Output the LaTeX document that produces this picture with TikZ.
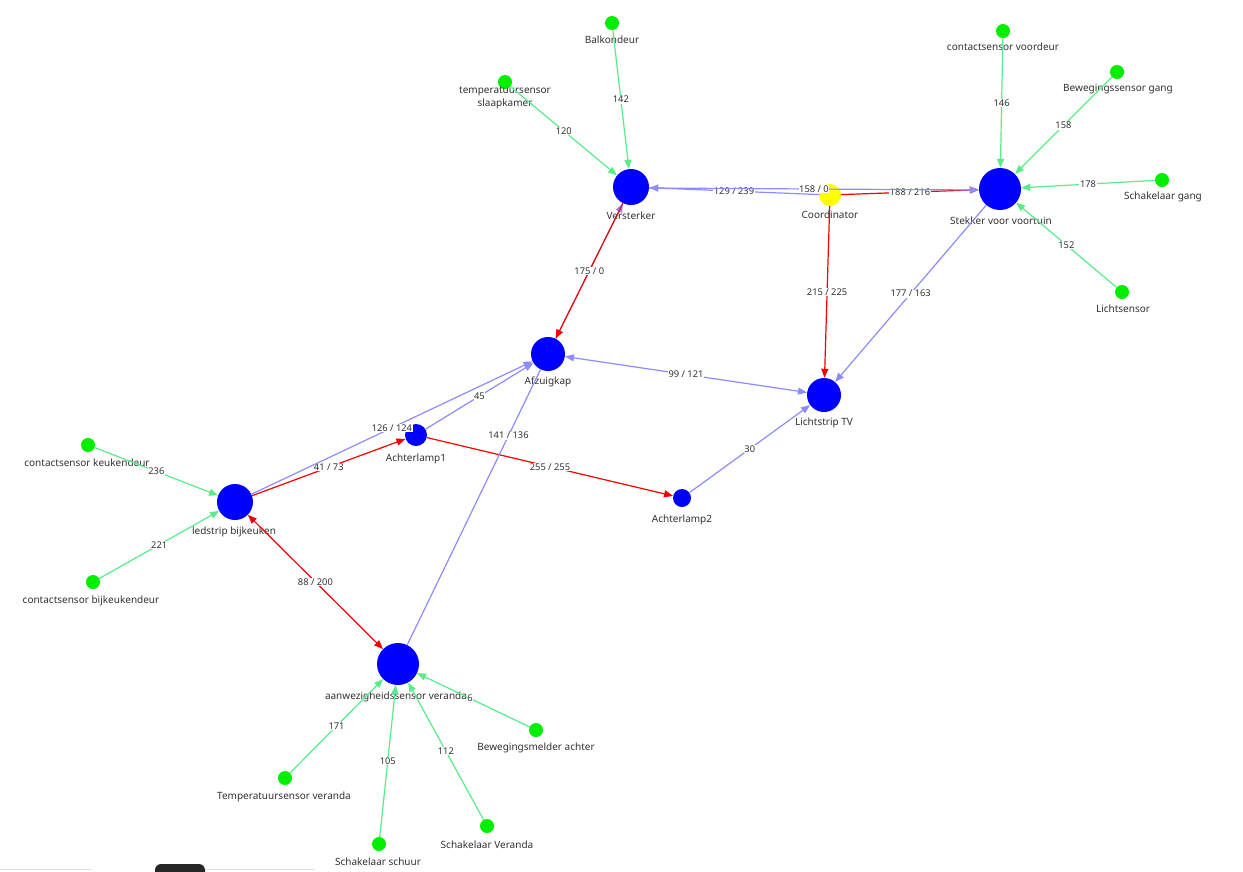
\documentclass[tikz,border=0pt]{standalone}
\usepackage{fontspec}
\setmainfont{Noto Sans}
\usetikzlibrary{arrows.meta}
\definecolor{hubblue}{RGB}{0,0,255}
\definecolor{sensgreen}{RGB}{0,238,0}
\definecolor{coordyellow}{RGB}{255,255,0}
\definecolor{egreen}{RGB}{90,235,140}
\definecolor{eblue}{RGB}{140,140,255}
\definecolor{ered}{RGB}{245,0,0}
\definecolor{txt}{RGB}{50,50,50}
\begin{document}
\begin{tikzpicture}[x=1pt,y=-1pt,
  hub/.style={circle,fill=hubblue,draw=none,inner sep=0pt,minimum size=#1},
  sensor/.style={circle,fill=sensgreen,draw=none,inner sep=0pt,minimum size=14pt},
  coordnode/.style={circle,fill=coordyellow,draw=none,inner sep=0pt,minimum size=22pt},
  lbl/.style={text=txt,inner sep=0.5pt,font=\fontsize{10}{13}\selectfont},
  elbl/.style={fill=white,text=txt,inner sep=0.6pt,font=\fontsize{9.3}{10}\selectfont},
  tip/.style={-{Triangle[length=9pt,width=7pt]}},
  tips/.style={{Triangle[length=9pt,width=7pt]}-{Triangle[length=9pt,width=7pt]}},
  gedge/.style={draw=egreen,line width=1.2pt,tip},
  bedge/.style={draw=eblue,line width=1.2pt},
  redge/.style={draw=ered,line width=1.2pt}]
\useasboundingbox (0,0) rectangle (1243,871);
\clip (0,0) rectangle (1243,871);
\fill[white] (0,0) rectangle (1243,871);
\fill[black!85,rounded corners=6pt] (155,864) rectangle (205,885);
\draw[black!12,line width=1pt] (0,869) -- (92,869) (205,869) -- (315,869);

% nodes
\node[sensor] (balk) at (612,23) {};
\node[lbl] (balk-l) at (612,40) {Balkondeur};
\node[sensor] (tslaap) at (505,82) {};
\node[lbl,align=center] (tslaap-l) at (505,98) {temperatuursensor\\slaapkamer};
\node[hub=36pt] (verst) at (631,187) {};
\node[lbl] (verst-l) at (631,216) {Versterker};
\node[coordnode] (coord) at (830,195) {};
\node[lbl] (coord-l) at (830,215) {Coordinator};
\node[hub=42pt] (stek) at (1000,189) {};
\node[lbl] (stek-l) at (1001,221) {Stekker voor voortuin};
\node[sensor] (cvoor) at (1003,31) {};
\node[lbl] (cvoor-l) at (1003,47) {contactsensor voordeur};
\node[sensor] (bgang) at (1117,72) {};
\node[lbl] (bgang-l) at (1118,89) {Bewegingssensor gang};
\node[sensor] (sgang) at (1162,180) {};
\node[lbl] (sgang-l) at (1163,197) {Schakelaar gang};
\node[sensor] (licht) at (1122,292) {};
\node[lbl] (licht-l) at (1123,309) {Lichtsensor};
\node[hub=34pt] (afz) at (548,354) {};
\node[lbl] (afz-l) at (548,382) {Afzuigkap};
\node[hub=34pt] (ltv) at (824,395) {};
\node[lbl] (ltv-l) at (824,423) {Lichtstrip TV};
\node[hub=22pt] (al1) at (416,435) {};
\node[lbl] (al1-l) at (416,459) {Achterlamp1};
\node[hub=18pt] (al2) at (682,498) {};
\node[lbl] (al2-l) at (682,520) {Achterlamp2};
\node[hub=36pt] (led) at (235,502) {};
\node[lbl] (led-l) at (234,532) {ledstrip bijkeuken};
\node[sensor] (ckeuk) at (88,445) {};
\node[lbl] (ckeuk-l) at (87,463) {contactsensor keukendeur};
\node[sensor] (cbijk) at (93,582) {};
\node[lbl] (cbijk-l) at (91,601) {contactsensor bijkeukendeur};
\node[hub=42pt] (aanw) at (398,664) {};
\node[lbl] (aanw-l) at (396,697) {aanwezigheidssensor veranda};
\node[sensor] (bachter) at (536,730) {};
\node[lbl] (bachter-l) at (536,748) {Bewegingsmelder achter};
\node[sensor] (tver) at (285,778) {};
\node[lbl] (tver-l) at (284,797) {Temperatuursensor veranda};
\node[sensor] (sschuur) at (379,844) {};
\node[lbl] (sschuur-l) at (378,862) {Schakelaar schuur};
\node[sensor] (sver) at (487,826) {};
\node[lbl] (sver-l) at (487,845) {Schakelaar Veranda};

% green edges
\draw[gedge] (balk) -- node[elbl]{142} (verst);
\draw[gedge] (tslaap) -- node[elbl]{120} (verst);
\draw[gedge] (cvoor) -- node[elbl]{146} (stek);
\draw[gedge] (bgang) -- node[elbl]{158} (stek);
\draw[gedge] (sgang) -- node[elbl]{178} (stek);
\draw[gedge] (licht) -- node[elbl]{152} (stek);
\draw[gedge] (ckeuk) -- node[elbl]{236} (led);
\draw[gedge] (cbijk) -- node[elbl]{221} (led);
\draw[gedge] (tver) -- node[elbl]{171} (aanw);
\draw[gedge] (sschuur) -- node[elbl]{105} (aanw);
\draw[gedge] (sver) -- node[elbl]{112} (aanw);
\draw[gedge] (bachter) -- node[elbl,pos=0.53]{6} (aanw);

% blue edge under the red one
\draw[bedge,tip] (afz) -- (verst);

% red edges
\draw[redge,tip] (coord) -- node[elbl]{188 / 216} (stek);
\draw[redge,tip] (coord) -- node[elbl]{215 / 225} (ltv);
\draw[redge,tip] (verst) -- node[elbl]{175 / 0} (afz);
\draw[redge,tip] (led) -- node[elbl]{41 / 73} (al1);
\draw[redge,tip] (al1) -- node[elbl]{255 / 255} (al2);
\draw[redge,tips] (led) -- node[elbl]{88 / 200} (aanw);

% blue edges
\draw[bedge,tip] (coord) -- node[elbl]{129 / 239} (verst);
\draw[bedge,tip] ([yshift=-1pt]verst.east) -- node[elbl]{158 / 0} ([yshift=-1pt]stek.west);
\draw[bedge,tip] (stek) -- node[elbl]{177 / 163} (ltv);
\draw[bedge,tips] (afz) -- node[elbl]{99 / 121} (ltv);
\draw[bedge,tip] (led) -- node[elbl]{126 / 124} (afz);
\draw[bedge,tip] (al1) -- node[elbl]{45} (afz);
\draw[bedge,tip] (al2) -- node[elbl]{30} (ltv);
\draw[bedge] (aanw) -- node[elbl,pos=0.76]{141 / 136} (afz);
\end{tikzpicture}
\end{document}
